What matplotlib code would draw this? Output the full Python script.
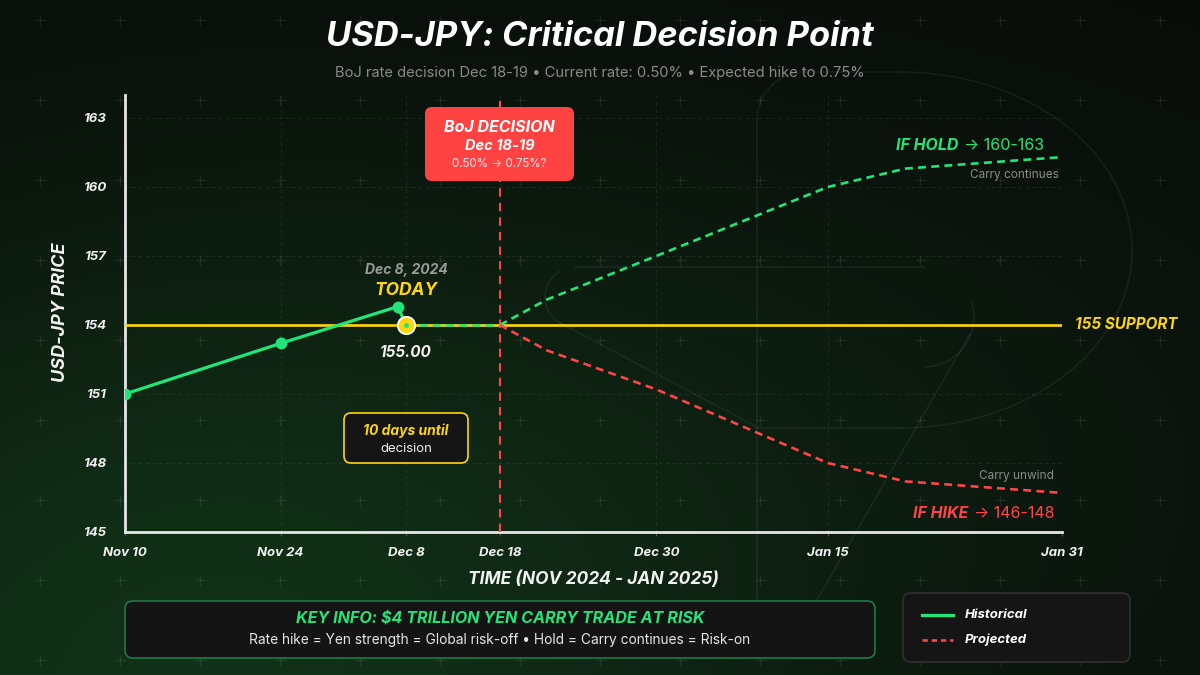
import numpy as np
import matplotlib
matplotlib.use("Agg")
import matplotlib.pyplot as plt
from matplotlib.patches import FancyBboxPatch, Arc
from matplotlib.offsetbox import TextArea, HPacker, AnnotationBbox

plt.rcParams['font.family'] = ['Inter', 'DejaVu Sans']

# ---------------- data ----------------
tick_pos = [0, 16.6, 30, 40, 56.7, 75, 100]
tick_labels = ['Nov 10', 'Nov 24', 'Dec 8', 'Dec 18', 'Dec 30', 'Jan 15', 'Jan 31']
y_ticks = [145, 148, 151, 154, 157, 160, 163]

hist_x = [0, 16.6, 29.1, 30]
hist_y = [151.0, 153.2, 154.8, 154.0]
bridge_x = [30, 40]
bridge_y = [154.0, 154.0]
proj_x = [40, 45, 56.7, 75, 83.3, 100]
hold_y = [154.0, 155.1, 157.0, 160.0, 160.8, 161.3]
hike_y = [154.0, 152.9, 151.2, 148.0, 147.2, 146.7]
support_level = 154.0
decision_x = 40
today_x, today_y = 30, 154.0

GREEN = '#22E57A'
RED = '#FF4545'
YELLOW = '#FFD60A'
WHITE = '#F2F2F2'

W, H = 1200, 675
fig = plt.figure(figsize=(12, 6.75), dpi=100)

# ---------------- background ----------------
bg = fig.add_axes([0, 0, 1, 1], zorder=0)
bg.set_xlim(0, W); bg.set_ylim(H, 0); bg.axis('off')
yy, xx = np.mgrid[0:H, 0:W]
base = np.array([8, 9, 8], float)
d1 = np.exp(-(((xx - 150) / 620.0) ** 2 + ((yy - 720) / 520.0) ** 2))
d2 = np.exp(-(((xx - 900) / 700.0) ** 2 + ((yy - 450) / 420.0) ** 2))
img = base[None, None, :] + d1[..., None] * np.array([9, 38, 15]) + d2[..., None] * np.array([3, 12, 5])
bg.imshow(np.clip(img, 0, 255).astype(np.uint8), extent=[0, W, H, 0], aspect='auto', zorder=0)
# cross pattern
for cx in range(40, W, 80):
    for cy in range(20, H, 80):
        bg.plot([cx - 4.5, cx + 4.5], [cy, cy], color='white', alpha=0.08, lw=1, zorder=1)
        bg.plot([cx, cx], [cy - 4.5, cy + 4.5], color='white', alpha=0.08, lw=1, zorder=1)
# faint watermark logo
wm = dict(color='white', alpha=0.06, lw=1.2, zorder=1)
bg.plot([757, 757], [600, 120], **wm)
bg.add_patch(Arc((805, 120), 96, 96, theta1=180, theta2=270, **wm))
bg.plot([805, 900], [72, 72], **wm)
bg.add_patch(Arc((900, 250), 464, 356, theta1=-90, theta2=90, **wm))
bg.plot([900, 757], [428, 428], **wm)
bg.plot([575, 924], [267, 267], **wm)
bg.add_patch(Arc((924, 317), 100, 100, theta1=-20, theta2=90, **wm))
bg.plot([970, 817], [334, 600], **wm)
bg.add_patch(Arc((575, 297), 60, 60, theta1=90, theta2=240, **wm))
bg.plot([560, 757], [323, 427], **wm)

# ---------------- main axes ----------------
ax = fig.add_axes([125 / W, 1 - 532 / H, 937 / W, 437 / H], zorder=1)
ax.set_facecolor('none')
ax.set_xlim(0, 100)
ax.set_ylim(145, 164)
for s in ['top', 'right']:
    ax.spines[s].set_visible(False)
for s in ['left', 'bottom']:
    ax.spines[s].set_color('#E6E6E6')
    ax.spines[s].set_linewidth(2)
ax.set_yticks(y_ticks)
ax.set_yticklabels([str(v) for v in y_ticks])
ax.set_xticks(tick_pos)
ax.set_xticklabels(tick_labels)
ax.tick_params(axis='y', length=0, pad=13, labelcolor=WHITE)
ax.tick_params(axis='x', length=3, color='#555555', pad=8, labelcolor=WHITE)
for lab in ax.get_xticklabels() + ax.get_yticklabels():
    lab.set_fontweight('bold'); lab.set_fontstyle('italic'); lab.set_fontsize(9.5)
ax.grid(True, color='white', alpha=0.08, lw=0.8, ls=(0, (3, 3)))
ax.set_axisbelow(True)

ax.set_ylabel('USD-JPY PRICE', color=WHITE, fontsize=13, fontweight='bold', fontstyle='italic')
ax.yaxis.set_label_coords(-0.0598, 0.503)
ax.set_xlabel('TIME (NOV 2024 - JAN 2025)', color=WHITE, fontsize=12.5, fontweight='bold', fontstyle='italic')
ax.xaxis.set_label_coords(0.5, -0.087)

# support line
ax.axhline(support_level, color=YELLOW, lw=1.9, zorder=3)
ax.annotate('155 SUPPORT', (100, support_level), xytext=(9.5, 0), textcoords='offset points',
            ha='left', va='center', color=YELLOW, fontsize=11, fontweight='bold',
            fontstyle='italic', annotation_clip=False)
# decision line
ax.axvline(decision_x, color=RED, lw=1.5, ls=(0, (4, 3)), zorder=3)

# projections
ax.plot(bridge_x, bridge_y, color=GREEN, lw=1.9, dashes=(3, 2), zorder=4)
ax.plot(proj_x, hold_y, color=GREEN, lw=1.9, dashes=(3, 2), zorder=4)
ax.plot(proj_x, hike_y, color=RED, lw=1.9, dashes=(3, 2), zorder=4)

# historical
ax.plot(hist_x, hist_y, color=GREEN, lw=2.3, zorder=5)
ax.plot(hist_x[:-1], hist_y[:-1], 'o', color=GREEN, ms=7.5, zorder=6)
ax.plot([today_x], [today_y], 'o', mfc=YELLOW, mec='white', mew=1.3, ms=12.5, zorder=7)
ax.plot([today_x], [today_y], 'o', color=GREEN, ms=2.5, zorder=8)

# today labels
ax.annotate('Dec 8, 2024', (today_x, today_y), xytext=(0, 39.5), textcoords='offset points',
            ha='center', va='center', color='#9A9A9A', fontsize=10, fontweight='bold', fontstyle='italic')
ax.annotate('TODAY', (today_x, today_y), xytext=(0, 24.5), textcoords='offset points',
            ha='center', va='center', color=YELLOW, fontsize=12.5, fontweight='bold', fontstyle='italic')
ax.annotate('155.00', (today_x, today_y), xytext=(0, -19.5), textcoords='offset points',
            ha='center', va='center', color=WHITE, fontsize=11, fontweight='bold', fontstyle='italic')

# ---------------- overlay ----------------
ov = fig.add_axes([0, 0, 1, 1], zorder=2)
ov.set_xlim(0, W); ov.set_ylim(H, 0); ov.axis('off'); ov.set_facecolor('none')

def rbox(x0, y0, x1, y1, fc, ec='none', lw=0, r=7):
    p = FancyBboxPatch((x0 + r, y0 + r), (x1 - x0) - 2 * r, (y1 - y0) - 2 * r,
                       boxstyle=f'round,pad={r}', fc=fc, ec=ec, lw=lw, zorder=3)
    ov.add_patch(p)

# title
ov.text(600, 37, 'USD-JPY: Critical Decision Point', ha='center', va='center', color='white',
        fontsize=24.8, fontweight='bold', fontstyle='italic')
ov.text(600, 73, 'BoJ rate decision Dec 18-19 \u2022 Current rate: 0.50% \u2022 Expected hike to 0.75%',
        ha='center', va='center', color='#8A8A8A', fontsize=10.6)

# BoJ box
rbox(425, 107, 574, 181, fc='#FF4343', r=7)
ov.text(499.5, 127, 'BoJ DECISION', ha='center', va='center', color='white', fontsize=11.5,
        fontweight='bold', fontstyle='italic', zorder=4)
ov.text(499.5, 146, 'Dec 18-19', ha='center', va='center', color='white', fontsize=10.5,
        fontweight='bold', fontstyle='italic', zorder=4)
ov.text(499.5, 164, '0.50% \u2192 0.75%?', ha='center', va='center', color='#FFE5E5', fontsize=8.3,
        zorder=4)

# 10 days box
rbox(344, 413, 468, 463, fc='#151515', ec=YELLOW, lw=1.2, r=7)
ov.text(406, 431, '10 days until', ha='center', va='center', color=YELLOW, fontsize=10,
        fontweight='bold', fontstyle='italic', zorder=4)
ov.text(406, 449, 'decision', ha='center', va='center', color='#EDEDED', fontsize=9.5, zorder=4)

# scenario labels
def two_part(x, y, bold, rest, color):
    t1 = TextArea(bold, textprops=dict(color=color, fontsize=11.5, fontweight='bold', fontstyle='italic'))
    t2 = TextArea(rest, textprops=dict(color=color, fontsize=11.5))
    pk = HPacker(children=[t1, t2], align='baseline', pad=0, sep=4)
    ab = AnnotationBbox(pk, (x, y), xycoords='data', box_alignment=(1, 0.5), frameon=False, zorder=4)
    ov.add_artist(ab)

two_part(1044, 145, 'IF HOLD', '\u2192 160-163', GREEN)
two_part(1054, 513, 'IF HIKE', '\u2192 146-148', RED)
ov.text(1059, 175, 'Carry continues', ha='right', va='center', color='#8C8C8C', fontsize=8.5)
ov.text(1054, 476, 'Carry unwind', ha='right', va='center', color='#8C8C8C', fontsize=8.5)

# key info box
rbox(125, 601, 875, 658, fc='#141414', ec='#1E7A45', lw=1.2, r=8)
ov.text(500, 619, 'KEY INFO: $4 TRILLION YEN CARRY TRADE AT RISK', ha='center', va='center',
        color=GREEN, fontsize=11.6, fontweight='bold', fontstyle='italic', zorder=4)
ov.text(500, 640, 'Rate hike = Yen strength = Global risk-off \u2022 Hold = Carry continues = Risk-on',
        ha='center', va='center', color='#E6E6E6', fontsize=9.9, zorder=4)

# legend box
rbox(903, 593, 1130, 662, fc='#151515', ec='#303030', lw=1.2, r=8)
ov.plot([922, 953], [615, 615], color=GREEN, lw=2.3, zorder=4)
ov.plot([922, 953], [640, 640], color=RED, lw=1.9, dashes=(2, 1.5), zorder=4)
ov.text(965, 615, 'Historical', ha='left', va='center', color='white', fontsize=9.5,
        fontweight='bold', fontstyle='italic', zorder=4)
ov.text(965, 640, 'Projected', ha='left', va='center', color='white', fontsize=9.5,
        fontweight='bold', fontstyle='italic', zorder=4)

fig.savefig('out.png', dpi=100, facecolor='#080908')
